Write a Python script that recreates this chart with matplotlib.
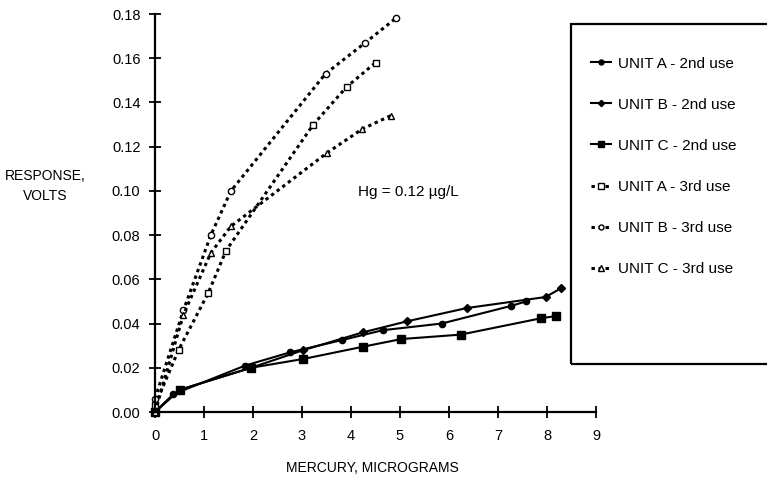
import matplotlib
matplotlib.use("Agg")
import matplotlib.pyplot as plt
from matplotlib.patches import Rectangle

plt.rcParams['font.family'] = ['Liberation Sans', 'DejaVu Sans']

# ---- data ----
a2_x = [0.0, 0.37, 1.84, 2.76, 3.81, 4.65, 5.85, 7.27, 7.57]
a2_y = [0.0, 0.008, 0.021, 0.027, 0.0325, 0.037, 0.040, 0.048, 0.050]

b2_x = [0.0, 0.50, 1.96, 3.03, 4.24, 5.14, 6.36, 7.97, 8.29]
b2_y = [0.0, 0.010, 0.020, 0.028, 0.036, 0.041, 0.047, 0.052, 0.056]

c2_x = [0.0, 0.50, 1.96, 3.03, 4.24, 5.03, 6.24, 7.88, 8.18]
c2_y = [0.0, 0.010, 0.020, 0.024, 0.0295, 0.033, 0.035, 0.0424, 0.0434]

a3_x = [0.0, 0.48, 1.09, 1.45, 3.23, 3.91, 4.50]
a3_y = [0.003, 0.028, 0.054, 0.073, 0.130, 0.147, 0.158]

b3_x = [0.0, 0.58, 1.14, 1.55, 3.48, 4.29, 4.91]
b3_y = [0.006, 0.046, 0.080, 0.100, 0.153, 0.167, 0.178]

c3_x = [0.0, 0.58, 1.14, 1.55, 3.50, 4.23, 4.81]
c3_y = [0.0, 0.044, 0.072, 0.084, 0.117, 0.128, 0.134]

labels = ["UNIT A - 2nd use", "UNIT B - 2nd use", "UNIT C - 2nd use",
          "UNIT A - 3rd use", "UNIT B - 3rd use", "UNIT C - 3rd use"]

x_ticks = list(range(0, 10))
y_ticks = [0.00, 0.02, 0.04, 0.06, 0.08, 0.10, 0.12, 0.14, 0.16, 0.18]

# ---- figure ----
W, H = 767, 484
fig = plt.figure(figsize=(W / 100, H / 100), dpi=100)
ax = fig.add_axes([155 / W, (H - 412) / H, (596 - 155) / W, (412 - 14) / H])

solid = dict(color='black', linewidth=1.5, linestyle='-')
dash = dict(color='black', linewidth=2.2, linestyle=(0, (1.1, 1.2)))

h = []
h.append(ax.plot(a2_x, a2_y, marker='o', markersize=4.5, markerfacecolor='black',
                 markeredgecolor='black', **solid)[0])
h.append(ax.plot(b2_x, b2_y, marker='D', markersize=4, markerfacecolor='black',
                 markeredgecolor='black', **solid)[0])
h.append(ax.plot(c2_x, c2_y, marker='s', markersize=5.5, markerfacecolor='black',
                 markeredgecolor='black', **solid)[0])
h.append(ax.plot(a3_x, a3_y, marker='s', markersize=5, markerfacecolor='white',
                 markeredgecolor='black', markeredgewidth=1.0, **dash)[0])
h.append(ax.plot(b3_x, b3_y, marker='o', markersize=4.5, markerfacecolor='white',
                 markeredgecolor='black', markeredgewidth=1.0, **dash)[0])
h.append(ax.plot(c3_x, c3_y, marker='^', markersize=5, markerfacecolor='white',
                 markeredgecolor='black', markeredgewidth=1.0, **dash)[0])

ax.set_xlim(0, 9)
ax.set_ylim(0, 0.18)
ax.set_xticks(x_ticks)
ax.set_xticklabels([str(v) for v in x_ticks], fontsize=10.5)
ax.set_yticks(y_ticks)
ax.set_yticklabels([f"{v:.2f}" for v in y_ticks], fontsize=10.5)
ax.tick_params(direction='inout', length=9, width=1.3, pad=6, colors='black')
ax.tick_params(axis='x', pad=8)
for s in ['top', 'right']:
    ax.spines[s].set_visible(False)
for s in ['left', 'bottom']:
    ax.spines[s].set_linewidth(1.6)
ax.set_facecolor('white')
for line in ax.get_lines():
    line.set_clip_on(False)

ax.text(4.14, 0.0995, "Hg = 0.12 \u00b5g/L", fontsize=11, va='center', ha='left')

fig.text(45 / W, 1 - 186 / H, "RESPONSE,\nVOLTS", fontsize=10, ha='center',
         va='center', linespacing=1.5)
fig.text(372 / W, 1 - 468 / H, "MERCURY, MICROGRAMS", fontsize=10, ha='center',
         va='center')

# legend box
fig.patches.append(Rectangle((571 / W, 1 - 364 / H), (800 - 571) / W, (364 - 24) / H,
                             transform=fig.transFigure, fill=False,
                             edgecolor='black', linewidth=1.6, clip_on=False))
leg = fig.legend(h, labels, loc='upper left', bbox_to_anchor=(577 / W, 1 - 43 / H),
                 frameon=False, fontsize=11, labelspacing=1.77, handlelength=1.3,
                 handletextpad=0.5, markerscale=0.8)

fig.savefig("out.png", dpi=100, facecolor='white')
